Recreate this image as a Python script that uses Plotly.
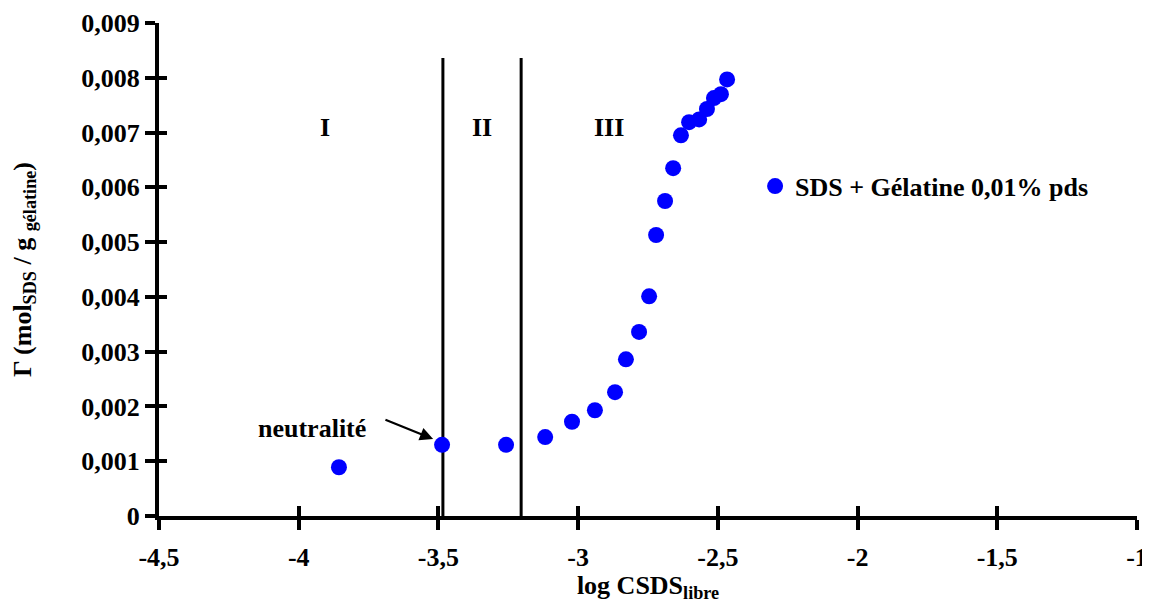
import plotly.graph_objects as go

# Data
log_c = [-3.856, -3.487, -3.258, -3.118, -3.022, -2.940, -2.868, -2.829, -2.782, -2.746,
         -2.721, -2.689, -2.660, -2.632, -2.603, -2.567, -2.539, -2.514, -2.489, -2.467]
gamma = [0.00089, 0.00130, 0.00130, 0.00144, 0.00172, 0.00193, 0.00226, 0.00286, 0.00336, 0.00401,
         0.00513, 0.00575, 0.00635, 0.00695, 0.00719, 0.00724, 0.00743, 0.00763, 0.00770, 0.00797]

region_bounds = [-3.484, -3.204]
bound_top = 0.00836
region_labels = ["I", "II", "III"]
region_label_x = [-3.905, -3.345, -2.89]
region_label_y = 0.0071

x_tickvals = [-4.5, -4, -3.5, -3, -2.5, -2, -1.5, -1]
x_ticktext = ["-4,5", "-4", "-3,5", "-3", "-2,5", "-2", "-1,5", "-1"]
y_tickvals = [0, 0.001, 0.002, 0.003, 0.004, 0.005, 0.006, 0.007, 0.008, 0.009]
y_ticktext = ["0", "0,001", "0,002", "0,003", "0,004", "0,005", "0,006", "0,007", "0,008", "0,009"]

FONT = "Times New Roman"
FS = 26

fig = go.Figure()

for xb in region_bounds:
    fig.add_trace(go.Scatter(x=[xb, xb], y=[0, bound_top], mode="lines",
                             line=dict(color="black", width=3), showlegend=False,
                             hoverinfo="skip"))

fig.add_trace(go.Scatter(x=log_c, y=gamma, mode="markers",
                         marker=dict(color="#0000FF", size=16),
                         name="<b>SDS + Gélatine 0,01% pds</b>"))

for lab, lx in zip(region_labels, region_label_x):
    fig.add_annotation(x=lx, y=region_label_y, text="<b>" + lab + "</b>", showarrow=False,
                       font=dict(family=FONT, size=FS, color="black"))

fig.add_annotation(x=-3.952, y=0.00160, text="<b>neutralité</b>", showarrow=False,
                   font=dict(family=FONT, size=FS, color="black"))
fig.add_annotation(x=-3.519, y=0.001405, ax=-3.695, ay=0.00177, axref="x", ayref="y",
                   text="", showarrow=True, arrowhead=2, arrowsize=1.2, arrowwidth=2.2,
                   arrowcolor="black")

axis_common = dict(showline=True, linecolor="black", linewidth=4, showgrid=False,
                   zeroline=False, ticks="outside", ticklen=10, tickwidth=4,
                   tickcolor="black", automargin=False, ticklabeloverflow="allow")

fig.update_layout(
    width=1142, height=595,
    margin=dict(l=151, r=13, t=15, b=87),
    paper_bgcolor="white", plot_bgcolor="white",
    font=dict(family=FONT, size=FS, color="black"),
    xaxis=dict(range=[-4.5, -1], tickvals=x_tickvals,
               ticktext=["<b>" + t + "</b>" for t in x_ticktext],
               tickfont=dict(family=FONT, size=FS), ticklabelstandoff=5,
               title=dict(text="<b>log CSDS<sub>libre</sub></b>", standoff=10,
                          font=dict(family=FONT, size=FS)),
               **axis_common),
    yaxis=dict(range=[0, 0.009], tickvals=y_tickvals,
               ticktext=["<b>" + t + "</b>" for t in y_ticktext],
               tickfont=dict(family=FONT, size=FS),
               title=dict(text="<b>Γ (mol<sub>SDS</sub> / g <sub>gélatine</sub>)</b>", standoff=46,
                          font=dict(family=FONT, size=FS)),
               **axis_common),
    xaxis2=dict(range=[-4.5, -1], overlaying="x", anchor="y", side="bottom",
                tickvals=x_tickvals, showticklabels=False, showline=False,
                showgrid=False, zeroline=False, ticks="inside", ticklen=10,
                tickwidth=4, tickcolor="black"),
    yaxis2=dict(range=[0, 0.009], overlaying="y", anchor="x", side="left",
                tickvals=y_tickvals, showticklabels=False, showline=False,
                showgrid=False, zeroline=False, ticks="inside", ticklen=8,
                tickwidth=4, tickcolor="black"),
    legend=dict(x=0.6095, y=0.669, xanchor="left", yanchor="middle",
                font=dict(family=FONT, size=FS),
                bgcolor="rgba(0,0,0,0)", itemwidth=30),
    showlegend=True,
)

# invisible trace to activate overlay axes
fig.add_trace(go.Scatter(x=[-4.5], y=[0], xaxis="x2", yaxis="y2", mode="markers",
                         marker=dict(opacity=0), showlegend=False, hoverinfo="skip"))

fig.write_html("out.html")
